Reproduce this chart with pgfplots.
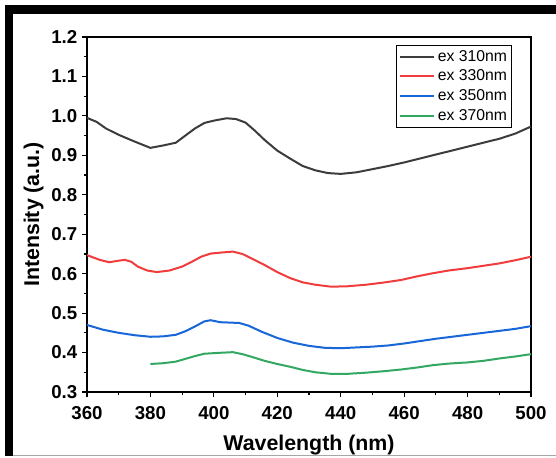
\documentclass[border=0pt]{standalone}
\usepackage{pgfplots}
\pgfplotsset{compat=1.18}
\usepackage{fontspec}
\setmainfont{Liberation Sans}
\definecolor{cblack}{RGB}{60,60,60}
\definecolor{cred}{RGB}{240,60,60}
\definecolor{cblue}{RGB}{24,102,216}
\definecolor{cgreen}{RGB}{50,168,98}
\begin{document}
\begin{tikzpicture}
\useasboundingbox (0pt,0pt) rectangle (417pt,342.75pt);
\fill[white] (0pt,0pt) rectangle (417pt,342.75pt);
\fill[black] (3.75pt,332.25pt) rectangle (417pt,339pt);
\fill[black] (3.75pt,0.75pt) rectangle (9.75pt,339pt);
\draw[gray!70,line width=0.75pt] (9.75pt,1.5pt) -- (417pt,1.5pt);
\begin{axis}[
  at={(65.25pt,48.75pt)}, anchor=south west,
  scale only axis, width=333pt, height=266.25pt,
  xmin=360, xmax=500, ymin=0.3, ymax=1.2,
  xtick={360,380,...,500}, ytick={0.3,0.4,...,1.2},
  minor x tick num=1, minor y tick num=1,
  xtick pos=bottom, ytick pos=left,
  tick align=outside,
  major tick length=3.75pt, minor tick length=2.25pt,
  axis line style={line width=0.9pt},
  every tick/.style={line width=0.9pt, black},
  /pgf/number format/assume math mode=true,
  yticklabel style={/pgf/number format/.cd,fixed,fixed zerofill,precision=1},
  xticklabel style={yshift=-3.5pt,/pgf/number format/.cd,fixed,precision=0,set thousands separator={}},
  ticklabel style={font=\bfseries\fontsize{14}{14}\selectfont},
  xlabel={Wavelength (nm)}, ylabel={Intensity (a.u.)},
  label style={font=\bfseries\fontsize{16}{16}\selectfont},
  xlabel style={yshift=-5pt},
  ylabel style={yshift=-1pt},
  legend style={at={(1,1)}, anchor=north east, xshift=-14.25pt, yshift=-6pt,
    draw=black, line width=0.6pt, font=\fontsize{11.8}{13}\selectfont,
    inner sep=1.5pt, row sep=1.2pt, cells={anchor=west}},
  legend image code/.code={\draw[#1,line width=1.5pt] (0pt,0pt) -- (26pt,0pt);},
  every axis plot/.append style={line width=1.5pt},
]
\addplot[cblack] coordinates {
(360,0.995)(363,0.985)(366,0.968)(370,0.952)(375,0.935)(380,0.919)(384,0.925)
(388,0.932)(391,0.950)(394,0.968)(397,0.982)(400,0.988)(404,0.994)(407,0.992)
(410,0.983)(413,0.962)(416,0.939)(420,0.912)(424,0.892)(428,0.873)(432,0.862)
(436,0.855)(440,0.853)(445,0.857)(450,0.865)(455,0.873)(460,0.882)(465,0.892)
(470,0.902)(475,0.912)(480,0.922)(485,0.932)(490,0.942)(495,0.955)(500,0.973)};
\addlegendentry{ex 310nm}
\addplot[cred] coordinates {
(360,0.647)(364,0.635)(367,0.629)(370,0.633)(372,0.635)(374,0.630)(376,0.618)
(379,0.608)(382,0.604)(386,0.608)(390,0.618)(393,0.630)(396,0.643)(399,0.651)
(403,0.654)(406,0.656)(409,0.650)(412,0.638)(416,0.622)(420,0.604)(424,0.589)
(428,0.578)(432,0.572)(437,0.567)(442,0.568)(448,0.572)(454,0.578)(459,0.584)
(464,0.593)(469,0.601)(474,0.608)(480,0.614)(485,0.620)(490,0.626)(495,0.634)(500,0.643)};
\addlegendentry{ex 330nm}
\addplot[cblue] coordinates {
(360,0.470)(365,0.458)(370,0.450)(375,0.444)(380,0.440)(384,0.441)(388,0.445)
(391,0.454)(394,0.466)(397,0.479)(399,0.482)(402,0.477)(405,0.476)(408,0.475)
(411,0.468)(415,0.453)(420,0.437)(425,0.425)(430,0.417)(435,0.412)(440,0.411)
(445,0.413)(450,0.415)(455,0.418)(460,0.423)(465,0.429)(470,0.435)(475,0.440)
(480,0.445)(485,0.450)(490,0.455)(495,0.460)(500,0.467)};
\addlegendentry{ex 350nm}
\addplot[cgreen] coordinates {
(380,0.371)(384,0.373)(388,0.377)(391,0.384)(394,0.391)(397,0.397)(401,0.399)
(406,0.401)(409,0.396)(412,0.389)(416,0.379)(420,0.371)(424,0.364)(428,0.356)
(432,0.350)(437,0.346)(442,0.346)(448,0.349)(454,0.353)(459,0.357)(464,0.362)
(469,0.368)(474,0.372)(480,0.375)(485,0.379)(490,0.385)(495,0.390)(500,0.396)};
\addlegendentry{ex 370nm}
\end{axis}
\end{tikzpicture}
\end{document}
